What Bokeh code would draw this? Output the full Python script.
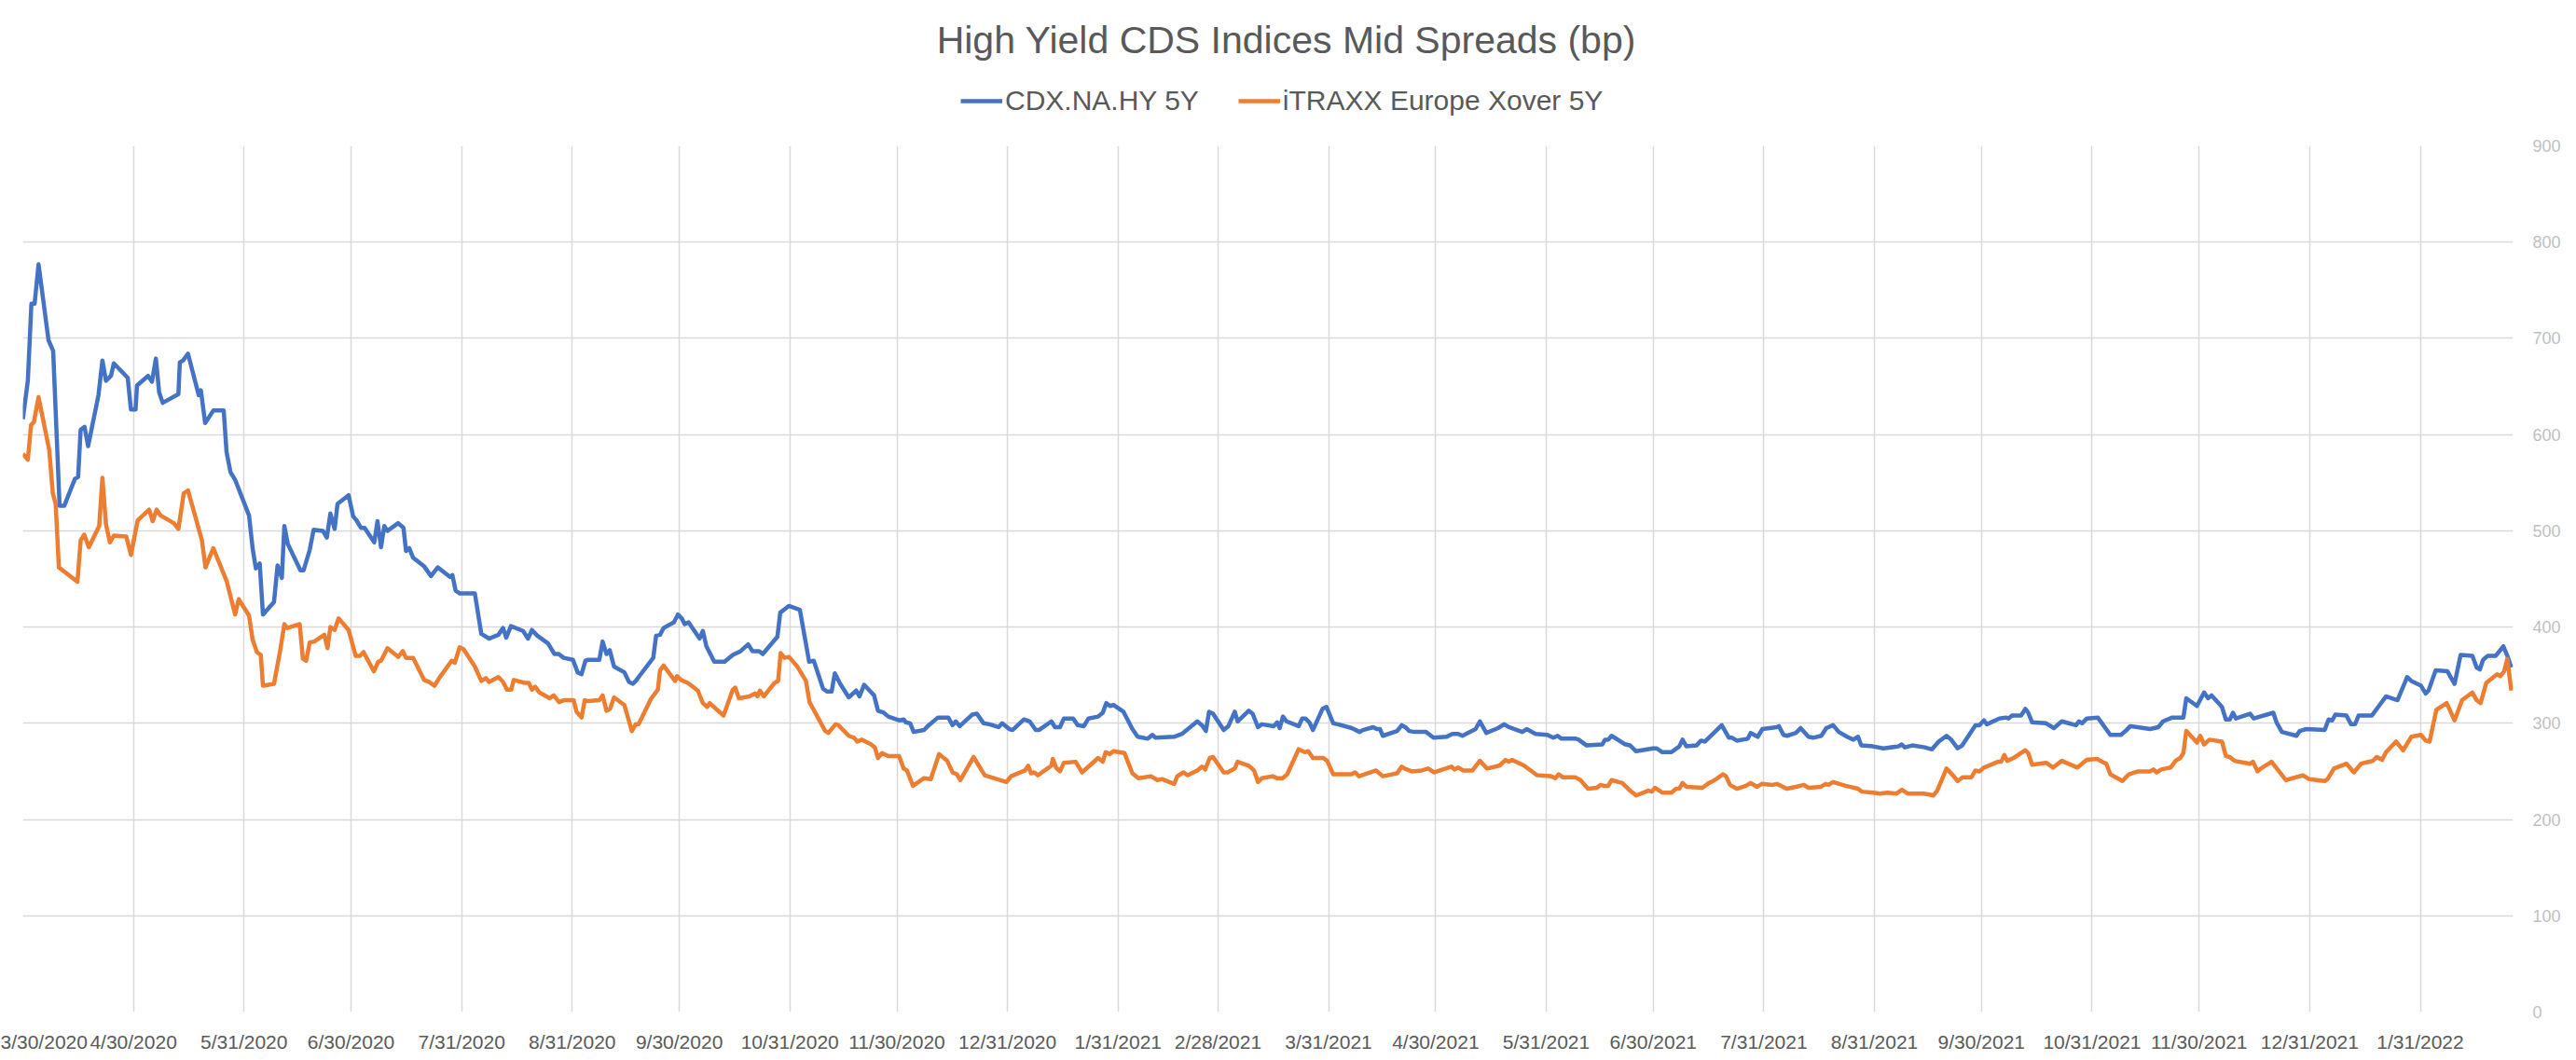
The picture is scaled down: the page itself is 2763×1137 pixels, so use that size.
import pandas as pd
from bokeh.plotting import figure
from bokeh.layouts import column
from bokeh.models import FixedTicker, Range1d, Label, Legend, LegendItem, ColumnDataSource
from bokeh.embed import file_html
from bokeh.resources import INLINE

TITLE = "High Yield CDS Indices Mid Spreads (bp)"
START = "2020-03-30"
X_END = "2022-02-26"
SERIES_NAMES = ["CDX.NA.HY 5Y", "iTRAXX Europe Xover 5Y"]

# days elapsed since START
CDX_DAYS = [
    0, 1.4, 2.4, 3.3, 4.4, 7.2, 8.5, 10.3, 11.6, 14.6, 15.5, 16.2, 17.3, 18.3, 21.2, 22.3, 23.3, 24.7, 25.5,
    29.4, 30.3, 31.6, 32, 35.1, 36.2, 37.3, 38.2, 39.2, 43.6, 44, 44.9, 46.3, 49.3, 49.9, 51.1, 53.4, 56.3,
    57.1, 58.2, 59.5, 63.4, 64.4, 65.3, 66.4, 67.3, 70.4, 71.4, 72.6, 73.3, 74.3, 77.8, 78.7, 80.4, 81.5,
    84.1, 85.2, 86.2, 87.4, 88.2, 91.3, 92.6, 93.5, 94.8, 95.8, 98.5, 99.4, 100.4, 101.3, 102.2, 105.2,
    106.7, 107.4, 108.3, 109.4, 112.5, 114.4,
    116.3, 119.8, 120.4, 121.3, 122.4, 126.7, 128.5, 130.7, 133.3, 134.6, 135.5, 136.8, 140.2, 141.6,
    142.7, 144.2, 147.2, 149, 150.2, 151.6, 154.2, 155.5, 156.6, 157.7, 158.5, 161.6, 162.5, 163.6, 164.5,
    165.7, 168.6, 169.9, 171, 171.8, 173, 176.7, 177.5, 178.6, 179.6, 182.5, 183.6, 184.7, 185.5, 186.6,
    189.7, 190.6, 191.6, 193.8, 196.7, 199, 201.2, 203.3, 204.5, 206.4, 207.4, 211.5, 212.3, 214.7, 217.8,
    220.4, 221.7, 224.3, 225.4, 226.7, 227.6, 229.1,
    231.5, 233.6, 234.5, 235.8, 238.6, 239.7, 241.3, 242.6, 245.6, 246.9, 247.5, 248.7, 249.7, 252.6,
    253.9, 256.5, 259.4, 260.6, 261.5, 262.6, 266.1, 267.4, 269.3, 270.9, 273.5, 274.5, 276.5, 277.4,
    280.6, 282.2, 283.9, 284.8, 288.3, 289.3, 290.7, 291.8, 294.4, 295.7, 297.4, 298.7, 301.4, 302.7,
    303.7, 304.7, 305.7, 308.5, 311, 312.5, 315.3, 316.6, 317.5, 322.7, 324.9, 329.2, 330.5, 331.6, 332.5,
    333.6, 336.6, 337.9, 339.7, 340.5, 343.6,
    344.7, 346.2, 347.3, 350.6, 351.6, 352.3, 353.2, 354.2, 357.6, 358.6, 359.5, 360.6, 361.6, 364.3,
    365.4, 367.3, 368.6, 372.5, 374.7, 375.6, 378.5, 379.5, 380.4, 381.2, 385.2, 386.5, 387.5, 388.6,
    390.1, 393.3, 395.4, 399.1, 400.7, 402.3, 403.5, 407.2, 408.4, 410.2, 413.5, 415.2, 416.5, 420.3,
    421.5, 424, 427.3, 429, 430.2, 431.2, 435.3, 436.1, 438.3, 442.7, 443.5, 444.4, 445.3, 449.2, 450.5,
    452.2, 456.9, 457.9, 459.5,
    462.1, 464.3, 465.2, 466.3, 469.1, 470.4, 471.5, 476.2, 478.2, 479.1, 480.4, 483.5, 484.3, 486.3,
    487.6, 491.6, 492.2, 493.5, 494.5, 497, 498.3, 500.5, 501.8, 504.1, 505.5, 507.4, 509, 511.3, 513.1,
    514.4, 515.3, 518.6, 521.5, 525.7, 526.6, 527.5, 529.6, 533.1, 534, 535.1, 537, 539.2, 540.5, 542.3,
    543.6, 547.3, 548.4, 549.7, 550.5, 554, 555.8, 556.6, 557.5, 560.1, 561.3, 562.1, 563.2, 567.1,
    569.3, 571.5,
    575.5, 576.3, 577.2, 578.5, 581.6, 585.1, 588.1, 589.4, 590.7, 596.2, 598.6, 599.9, 602.5, 605.6,
    606.4, 609.4, 611.4, 612.5, 613.5, 616.4, 617.5, 618.6, 619.5, 620.3, 624.3, 625.3, 630.8, 631.7,
    633.2, 637.3, 638.2, 639.9, 645.2, 646.3, 647.3, 648.2, 651.3, 652.6, 653.7, 654.7, 658.4, 660.4,
    662.4, 665.6, 668.3, 669.5, 672.2, 673.5, 674.3, 676.3, 679.6, 681.6, 683.3, 686.6, 687.8, 688.7,
    689.6, 690.9, 693.1, 695.3, 696.4, 697.5,
]
CDX_VALUES = [
    616, 656, 736, 736, 777, 698, 687, 526, 526, 554, 556, 605, 608, 588, 641, 677, 656, 661, 674,
    659, 626, 626, 651, 661, 655, 679, 644, 633, 642, 675, 677, 684, 641, 646, 612, 625, 625,
    582, 561, 553, 516, 482, 461, 466, 413, 426, 464, 451, 505, 486, 459, 459, 480, 501,
    500, 493, 518, 502, 528, 537, 515, 511, 503, 503, 488, 510, 483, 505, 500, 508,
    503, 479, 482, 472, 463, 453,
    462, 452, 454, 438, 435, 435, 393, 388, 392, 399, 389, 401, 396, 388,
    397, 391, 383, 372, 372, 368, 366, 353, 351, 365, 366, 366, 385, 372, 376,
    359, 353, 343, 341, 344, 350, 368, 391, 392, 399, 405, 413, 409, 403, 405,
    388, 396, 380, 364, 364, 371, 375, 382, 375, 375, 372, 390, 415, 422, 418,
    364, 365, 336, 333, 333, 352, 341,
    327, 334, 328, 340, 329, 313, 311, 307, 303, 304, 301, 300, 291, 293,
    298, 306, 306, 298, 302, 297, 309, 310, 300, 299, 296, 300, 294, 293,
    304, 302, 293, 293, 302, 296, 296, 305, 305, 298, 297, 305, 307, 311,
    321, 318, 319, 312, 294, 286, 284, 288, 285, 286, 289, 302, 298, 292, 312,
    310, 293, 297, 312, 302, 313,
    310, 296, 299, 297, 301, 295, 307, 302, 297, 305, 305, 301, 293, 315,
    317, 300, 299, 295, 291, 293, 296, 294, 294, 287, 292, 298, 296, 292,
    291, 291, 285, 286, 289, 289, 287, 294, 302, 290, 295, 299, 296, 291,
    294, 289, 288, 285, 287, 284, 284, 283, 277, 278, 283, 283, 287, 278, 277,
    271, 274, 274, 270,
    270, 276, 283, 276, 277, 282, 281, 298, 285, 285, 282, 284, 290, 286,
    294, 296, 297, 288, 287, 290, 295, 286, 285, 287, 295, 298, 291, 286, 283,
    286, 277, 276, 274, 276, 278, 275, 277, 275, 274, 273, 281, 287, 283, 274,
    277, 298, 298, 303, 299, 305, 306, 305, 308, 308, 315, 311, 301, 300,
    295, 302,
    298, 302, 300, 305, 306, 288, 288, 292, 297, 294, 296, 302, 306, 306,
    326, 318, 332, 326, 329, 317, 304, 304, 311, 305, 310, 305, 311, 301,
    291, 287, 292, 294, 293, 304, 303, 309, 308, 299, 299, 308, 308, 318,
    328, 324, 348, 344, 339, 331, 334, 355, 354, 341, 371, 370, 358, 356,
    366, 370, 370, 380, 370, 358,
]

XOVER_DAYS = [
    0, 1.4, 2.3, 3.1, 4.4, 7.4, 8.4, 9.2, 10.1, 15.3, 16.2, 17.2, 18.5, 21.4, 22.3, 23.3, 24.4, 25.5, 29,
    30.3, 32.2, 35.4, 36.4, 37.5, 38.6, 42.3, 43.6, 45.1, 46.3, 50.2, 51.2, 53.4, 57.1, 59.5, 60.5, 63.4,
    64.4, 65.6, 66.7, 67.3, 70.4, 72.1, 73.3, 74.1, 77.6, 78.5, 79.4, 80.4, 81.7, 84.5, 85.4, 86.2, 87.4,
    88.5, 91.3, 93.3, 94.5, 95.5, 98.4, 99.6, 100.4, 102.2, 105.2, 106.5, 107.4, 109.4, 112.5, 113.8,
    115.4, 116.7, 120.2, 121.1, 122.4, 123.5, 126.7, 128.5, 129.8, 130.7, 133.3, 134.6, 135.7, 136.9,
    137.6, 140.7, 141.8, 142.7, 143.6, 144.8, 147.7, 148.8, 150.3, 151.6, 154.4, 155.2, 156.6, 157.5,
    158.5, 161.6, 162.5, 163.6, 164.6, 165.7, 168.6, 170.7, 171.8, 172.6, 176, 178, 178.6, 179.6, 182.8,
    183.4, 184.5, 186.4, 189.2, 190.6, 191.8, 192.5, 196.4, 199, 199.7, 200.7, 203.6, 205.3, 205.9,
    206.6, 207.7, 210.7, 211.7, 212.4, 213.5, 214.7, 216.9, 219.5, 220.5, 224.9, 225.8, 227.8, 228.6,
    231.5, 233, 233.9, 235.2, 237.8, 238.8, 239.7, 240.8, 242.6, 245.6, 246.9, 247.8, 249.5, 252.6,
    254.5, 256.8, 259.1, 260.6, 261.8, 262.8, 266.5, 267.8, 269.6, 275.7, 277, 280.9, 281.8, 282.6,
    283.5, 284.5, 288.3, 288.7, 289.6, 290.7, 291.8, 295.1, 296.9, 301.4, 302.7, 303.5, 304.7, 305.7,
    308.8, 311, 312.7, 316.2, 318, 319.3, 322.7, 323.6, 325.3, 326.5, 329.2, 330.5, 331.4, 332.7, 333.6,
    336.6, 337.7, 339.7, 340.5, 343.6,
    345.1, 346.2, 347.3, 350.3, 351.5, 353.2, 354.4, 357.6, 359.3, 360.3, 361.6, 364.5, 365.6, 367.3,
    372.4, 373.4, 374.5, 379.3, 381.2, 385.2, 386.5, 387.3, 389.3, 392.1, 393.9, 395.6, 400.4, 401.3,
    402.3, 403.7, 406.3, 408.4, 410.4, 413.9, 415.6, 416.5, 417.4, 420.8, 424.4, 428.3, 429.6, 430.5,
    431.6, 435.1, 436.6, 438.7, 441.2, 442.2, 443.1, 444.4, 445.3, 448.3, 450.5, 452.2, 455.6, 456.6,
    457.5, 459.5,
    462.1, 463.4, 464.3, 465.2, 466.3, 470.8, 472.6, 473.8, 476.5, 477.4, 478.5, 480.4, 483, 484.3,
    486.1, 487.4, 490.4, 491.7, 494.4, 497, 499.2, 500.5, 504, 505.3, 506.1, 507.4, 510.9, 514.4, 515.4,
    518.7, 520.5, 522.6, 525.2, 526.7, 528.3, 532.7, 534.4, 535.5, 536.6, 539.2, 541, 542.3, 543.8,
    546.2, 547.3, 548.4, 549.7, 553.6, 554.5, 555.4, 556.2, 558, 561.3, 562.1, 563.2, 567.1, 569.1,
    571.5,
    575.9, 578.5, 581.4, 583.3, 584, 585.1, 588.5, 590.3, 592.9, 596.2, 597.2, 598.1, 599.4, 602, 603.4,
    604.7, 605.6, 606.4, 609.4, 610.3, 611.4, 612.9, 616.4, 617.5, 618.6, 619.9, 624.3, 625.1, 626.4,
    627.3, 630.3, 634.3, 639.1, 640.8, 645.2, 646, 647.8, 651.3, 653.4, 655.4, 658.7, 659.8, 661.3,
    662.4, 665.2, 667.2, 669.5, 672.2, 673.5, 674.6, 676.5, 679.4, 681.6, 683.7, 686.6, 687.8, 688.9,
    690.5, 693.5, 694.4, 695.5, 696.4, 697.5,
]
XOVER_VALUES = [
    580, 574, 610, 613, 639, 584, 539, 528, 462, 447, 490, 496, 483, 505, 555, 507, 488, 495, 494,
    475, 511, 522, 510, 522, 516, 508, 502, 539, 542, 490, 462, 482, 448, 413, 429, 412,
    387, 374, 371, 339, 341, 375, 403, 399, 403, 367, 365, 384, 385, 392, 378, 400, 397,
    409, 397, 370, 370, 374, 354, 364, 365, 378, 369, 375, 368, 368, 345, 343,
    339, 347, 365, 363, 379, 377, 359, 344, 347, 343, 348, 343, 335, 335,
    345, 342, 342, 335, 338, 332, 326, 329, 322, 324, 324, 312, 306, 324,
    323, 324, 329, 313, 315, 327, 319, 292, 299, 299, 325, 335, 355, 360, 344,
    349, 345, 342, 334, 321, 317, 321, 308, 335, 337, 326, 328, 331, 328,
    334, 328, 342, 344, 373, 368, 369, 360, 344, 322, 292, 290, 299, 298,
    287, 285, 281, 283, 278, 275, 264, 269, 266, 266, 253, 251, 235, 243,
    242, 268, 261, 249, 247, 241, 265, 257, 246, 239, 245, 251, 256, 248,
    249, 246, 256, 263, 254, 250, 259, 260, 249, 264, 260, 270, 268, 271,
    269, 248, 243, 245, 241, 242, 237, 245, 249, 246, 251, 255, 252, 264, 265,
    249, 249, 253, 260, 256,
    251, 239, 243, 245, 243, 243, 247, 273, 270, 271, 264, 264, 261, 247,
    247, 249, 245, 251, 245, 248, 255, 253, 250, 251, 253, 249, 255, 252,
    254, 251, 251, 261, 253, 256, 262, 260, 262, 256, 246, 245, 243, 247,
    244, 244, 241, 232, 233, 236, 235, 235, 241, 238, 230, 225, 230, 229,
    233, 228,
    228, 232, 232, 238, 234, 233, 238, 240, 247, 245, 236, 232, 235, 238,
    234, 237, 236, 237, 232, 234, 236, 233, 234, 237, 236, 239, 235, 232, 229,
    228, 227, 228, 227, 231, 227, 227, 226, 225, 230, 253, 246, 240, 244,
    244, 251, 250, 254, 260, 260, 267, 261, 264, 272, 269, 257, 259, 254,
    261,
    254, 262, 263, 259, 258, 247, 240, 247, 250, 250, 252, 249, 252, 254, 261,
    264, 269, 292, 280, 287, 278, 283, 281, 266, 265, 261, 258, 260, 250,
    253, 260, 241, 246, 242, 240, 242, 253, 258, 249, 258, 261, 265, 262,
    270, 281, 272, 286, 288, 282, 281, 314, 321, 303, 324, 332, 324, 321,
    342, 351, 349, 354, 367, 334,
]

TICK_DATES = [
    "2020-03-30", "2020-04-30", "2020-05-31", "2020-06-30", "2020-07-31", "2020-08-31",
    "2020-09-30", "2020-10-31", "2020-11-30", "2020-12-31", "2021-01-31", "2021-02-28",
    "2021-03-31", "2021-04-30", "2021-05-31", "2021-06-30", "2021-07-31", "2021-08-31",
    "2021-09-30", "2021-10-31", "2021-11-30", "2021-12-31", "2022-01-31",
]
TICK_LABELS = [
    "3/30/2020", "4/30/2020", "5/31/2020", "6/30/2020", "7/31/2020", "8/31/2020",
    "9/30/2020", "10/31/2020", "11/30/2020", "12/31/2020", "1/31/2021", "2/28/2021",
    "3/31/2021", "4/30/2021", "5/31/2021", "6/30/2021", "7/31/2021", "8/31/2021",
    "9/30/2021", "10/31/2021", "11/30/2021", "12/31/2021", "1/31/2022",
]
Y_TICKS = [0, 100, 200, 300, 400, 500, 600, 700, 800, 900]

BLUE = "#4472C4"
ORANGE = "#ED7D31"
FONT = "Liberation Sans"
W = 2755
HEAD_H = 146
MAIN_H = 989
LINE_W = 4.5

base = pd.Timestamp(START)
cdx_x = base + pd.to_timedelta(CDX_DAYS, unit="D")
xo_x = base + pd.to_timedelta(XOVER_DAYS, unit="D")


def to_ms(ts):
    return int((pd.Timestamp(ts) - pd.Timestamp("1970-01-01")) / pd.Timedelta(milliseconds=1))


tick_ms = [to_ms(d) for d in TICK_DATES]

# ---------------- header: title + legend (pixel-space canvas, y downward) ----------------
head = figure(
    width=W, height=HEAD_H, title_location=None,
    x_axis_location=None, y_axis_location=None,
    x_range=Range1d(0, W), y_range=Range1d(HEAD_H, 0),
    output_backend="svg", toolbar_location=None,
    min_border_left=0, min_border_right=0, min_border_top=0, min_border_bottom=0,
)
head.grid.visible = False
head.outline_line_color = None
head.background_fill_color = "white"
head.border_fill_color = "white"

head.add_layout(Label(
    x=1398, y=42, text=TITLE,
    text_align="center", text_baseline="middle",
    text_font=FONT, text_font_size="41px", text_color="#595959",
))

# legend keys: off-canvas stand-ins styled like the chart lines
k1 = head.line(x=[-50, -40], y=[-50, -50], color=BLUE, line_width=LINE_W)
k2 = head.line(x=[-50, -40], y=[-50, -50], color=ORANGE, line_width=LINE_W)
legend = Legend(
    items=[LegendItem(label=SERIES_NAMES[0], renderers=[k1]),
           LegendItem(label=SERIES_NAMES[1], renderers=[k2])],
    orientation="horizontal", location=(1006, HEAD_H - 95 - 30),
    glyph_width=45, glyph_height=30, label_height=30, label_standoff=3, spacing=42,
    padding=0, margin=0, border_line_color=None, background_fill_alpha=0,
    label_text_font=FONT, label_text_font_size="30px", label_text_color="#595959",
)
head.add_layout(legend)

# ---------------- main chart ----------------
p = figure(
    width=W, height=MAIN_H, title_location=None,
    x_axis_type="datetime", y_axis_location="right",
    x_range=Range1d(base, pd.Timestamp(X_END)), y_range=Range1d(0, 900),
    output_backend="svg", toolbar_location=None,
    min_border_left=24, min_border_right=60, min_border_top=10, min_border_bottom=50,
)
p.outline_line_color = None
p.background_fill_color = "white"
p.border_fill_color = "white"

src_cdx = ColumnDataSource(dict(x=cdx_x, y=CDX_VALUES))
src_xo = ColumnDataSource(dict(x=xo_x, y=XOVER_VALUES))
p.line("x", "y", source=src_cdx, color=BLUE, line_width=LINE_W, line_join="round")
p.line("x", "y", source=src_xo, color=ORANGE, line_width=LINE_W, line_join="round")

p.xgrid.ticker = FixedTicker(ticks=tick_ms)
p.ygrid.ticker = FixedTicker(ticks=Y_TICKS)
for g in (p.xgrid, p.ygrid):
    g.grid_line_color = "#D9D9D9"
    g.grid_line_width = 1.5

xa = p.xaxis[0]
xa.ticker = FixedTicker(ticks=tick_ms)
xa.major_label_overrides = {t: lab for t, lab in zip(tick_ms, TICK_LABELS)}
xa.major_label_text_font = FONT
xa.major_label_text_font_size = "21px"
xa.major_label_text_color = "#595959"
xa.major_tick_line_color = None
xa.minor_tick_line_color = None
xa.major_tick_out = 0
xa.major_tick_in = 0
xa.minor_tick_out = 0
xa.axis_line_color = None
xa.major_label_standoff = 20

ya = p.yaxis[0]
ya.ticker = FixedTicker(ticks=Y_TICKS)
ya.major_label_text_font = FONT
ya.major_label_text_font_size = "18px"
ya.major_label_text_color = "#BFBFBF"
ya.major_tick_line_color = None
ya.minor_tick_line_color = None
ya.major_tick_out = 0
ya.major_tick_in = 0
ya.minor_tick_out = 0
ya.axis_line_color = None
ya.major_label_standoff = 21

p.add_layout(Label(
    x=to_ms(xo_x[-1]), y=XOVER_VALUES[-1], x_offset=16, text=str(XOVER_VALUES[-1]),
    text_align="left", text_baseline="middle",
    text_font=FONT, text_font_size="18px", text_color=ORANGE,
))

layout = column(head, p, spacing=0)
open("out.html", "w").write(file_html(layout, INLINE))
